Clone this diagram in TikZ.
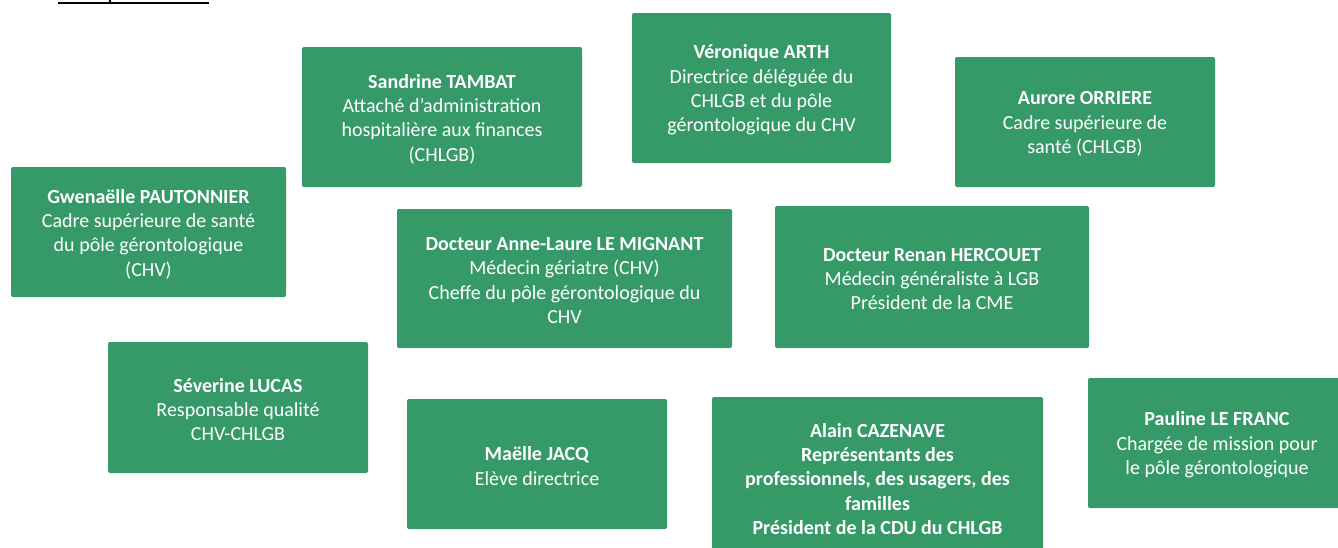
\documentclass[tikz,border=0pt]{standalone}
\usepackage{fontspec}
\setmainfont{Carlito}
\definecolor{cardgreen}{RGB}{53,153,104}
\tikzset{
  card/.style={fill=cardgreen, rounded corners=2pt, inner sep=0pt},
  cardtext/.style={text=white, align=center, inner sep=0pt,
    font=\fontsize{20}{24.4}\selectfont},
  titlerule/.style={line width=1.7pt, black}
}
% card spanning (left,top) -- (right,bottom) in pixel units, y pointing down;
% the text is set as a centred label, nudged slightly downwards
\newcommand{\card}[7][]{%
  \node[card, minimum width={#5-#3}, minimum height={#6-#4},
    label={[cardtext,#1,yshift=-2pt]center:{#7}}] (#2)
    at ({(#3+#5)/2},{(#4+#6)/2}) {};}
\begin{document}
\begin{tikzpicture}[x=1pt,y=-1pt]
  \useasboundingbox (0,0) rectangle (1338,547);
  \clip (0,0) rectangle (1338,547);

  % underlined heading running off the top edge
  \draw[titlerule] (58,2.8) -- (209,2.8);
  \fill[black] (109.3,0) rectangle (110.9,2.8);

  \card{tambat}{302}{47}{582}{187}{\textbf{Sandrine TAMBAT}\\Attaché d’administration\\hospitalière aux finances\\(CHLGB)}
  \card{arth}{632}{13}{891}{163}{\textbf{Véronique ARTH}\\Directrice déléguée du\\CHLGB et du pôle\\gérontologique du CHV}
  \card{orriere}{955}{57}{1215}{187}{\textbf{Aurore ORRIERE}\\Cadre supérieure de\\santé (CHLGB)}
  \card{pautonnier}{11}{167}{286}{297}{\textbf{Gwenaëlle PAUTONNIER}\\Cadre supérieure de santé\\du pôle gérontologique\\(CHV)}
  \card{mignant}{397}{209}{732}{348}{\textbf{Docteur Anne-Laure LE MIGNANT}\\Médecin gériatre (CHV)\\Cheffe du pôle gérontologique du\\CHV}
  \card{hercouet}{775}{206}{1089}{348}{\textbf{Docteur Renan HERCOUET}\\Médecin généraliste à LGB\\Président de la CME}
  \card{lucas}{108}{342}{368}{473}{\textbf{Séverine LUCAS}\\Responsable qualité\\CHV-CHLGB}
  \card{jacq}{407}{399}{667}{529}{\textbf{Maëlle JACQ}\\Elève directrice}
  \card[font=\fontsize{20}{24.4}\selectfont\bfseries]{cazenave}{712}{397}{1043}{557}{Alain CAZENAVE\\Représentants des\\professionnels, des usagers, des\\familles\\Président de la CDU du CHLGB}
  \card[xshift=-7pt]{lefranc}{1088}{378}{1360}{508}{\textbf{Pauline LE FRANC}\\Chargée de mission pour\\le pôle gérontologique}
\end{tikzpicture}
\end{document}
